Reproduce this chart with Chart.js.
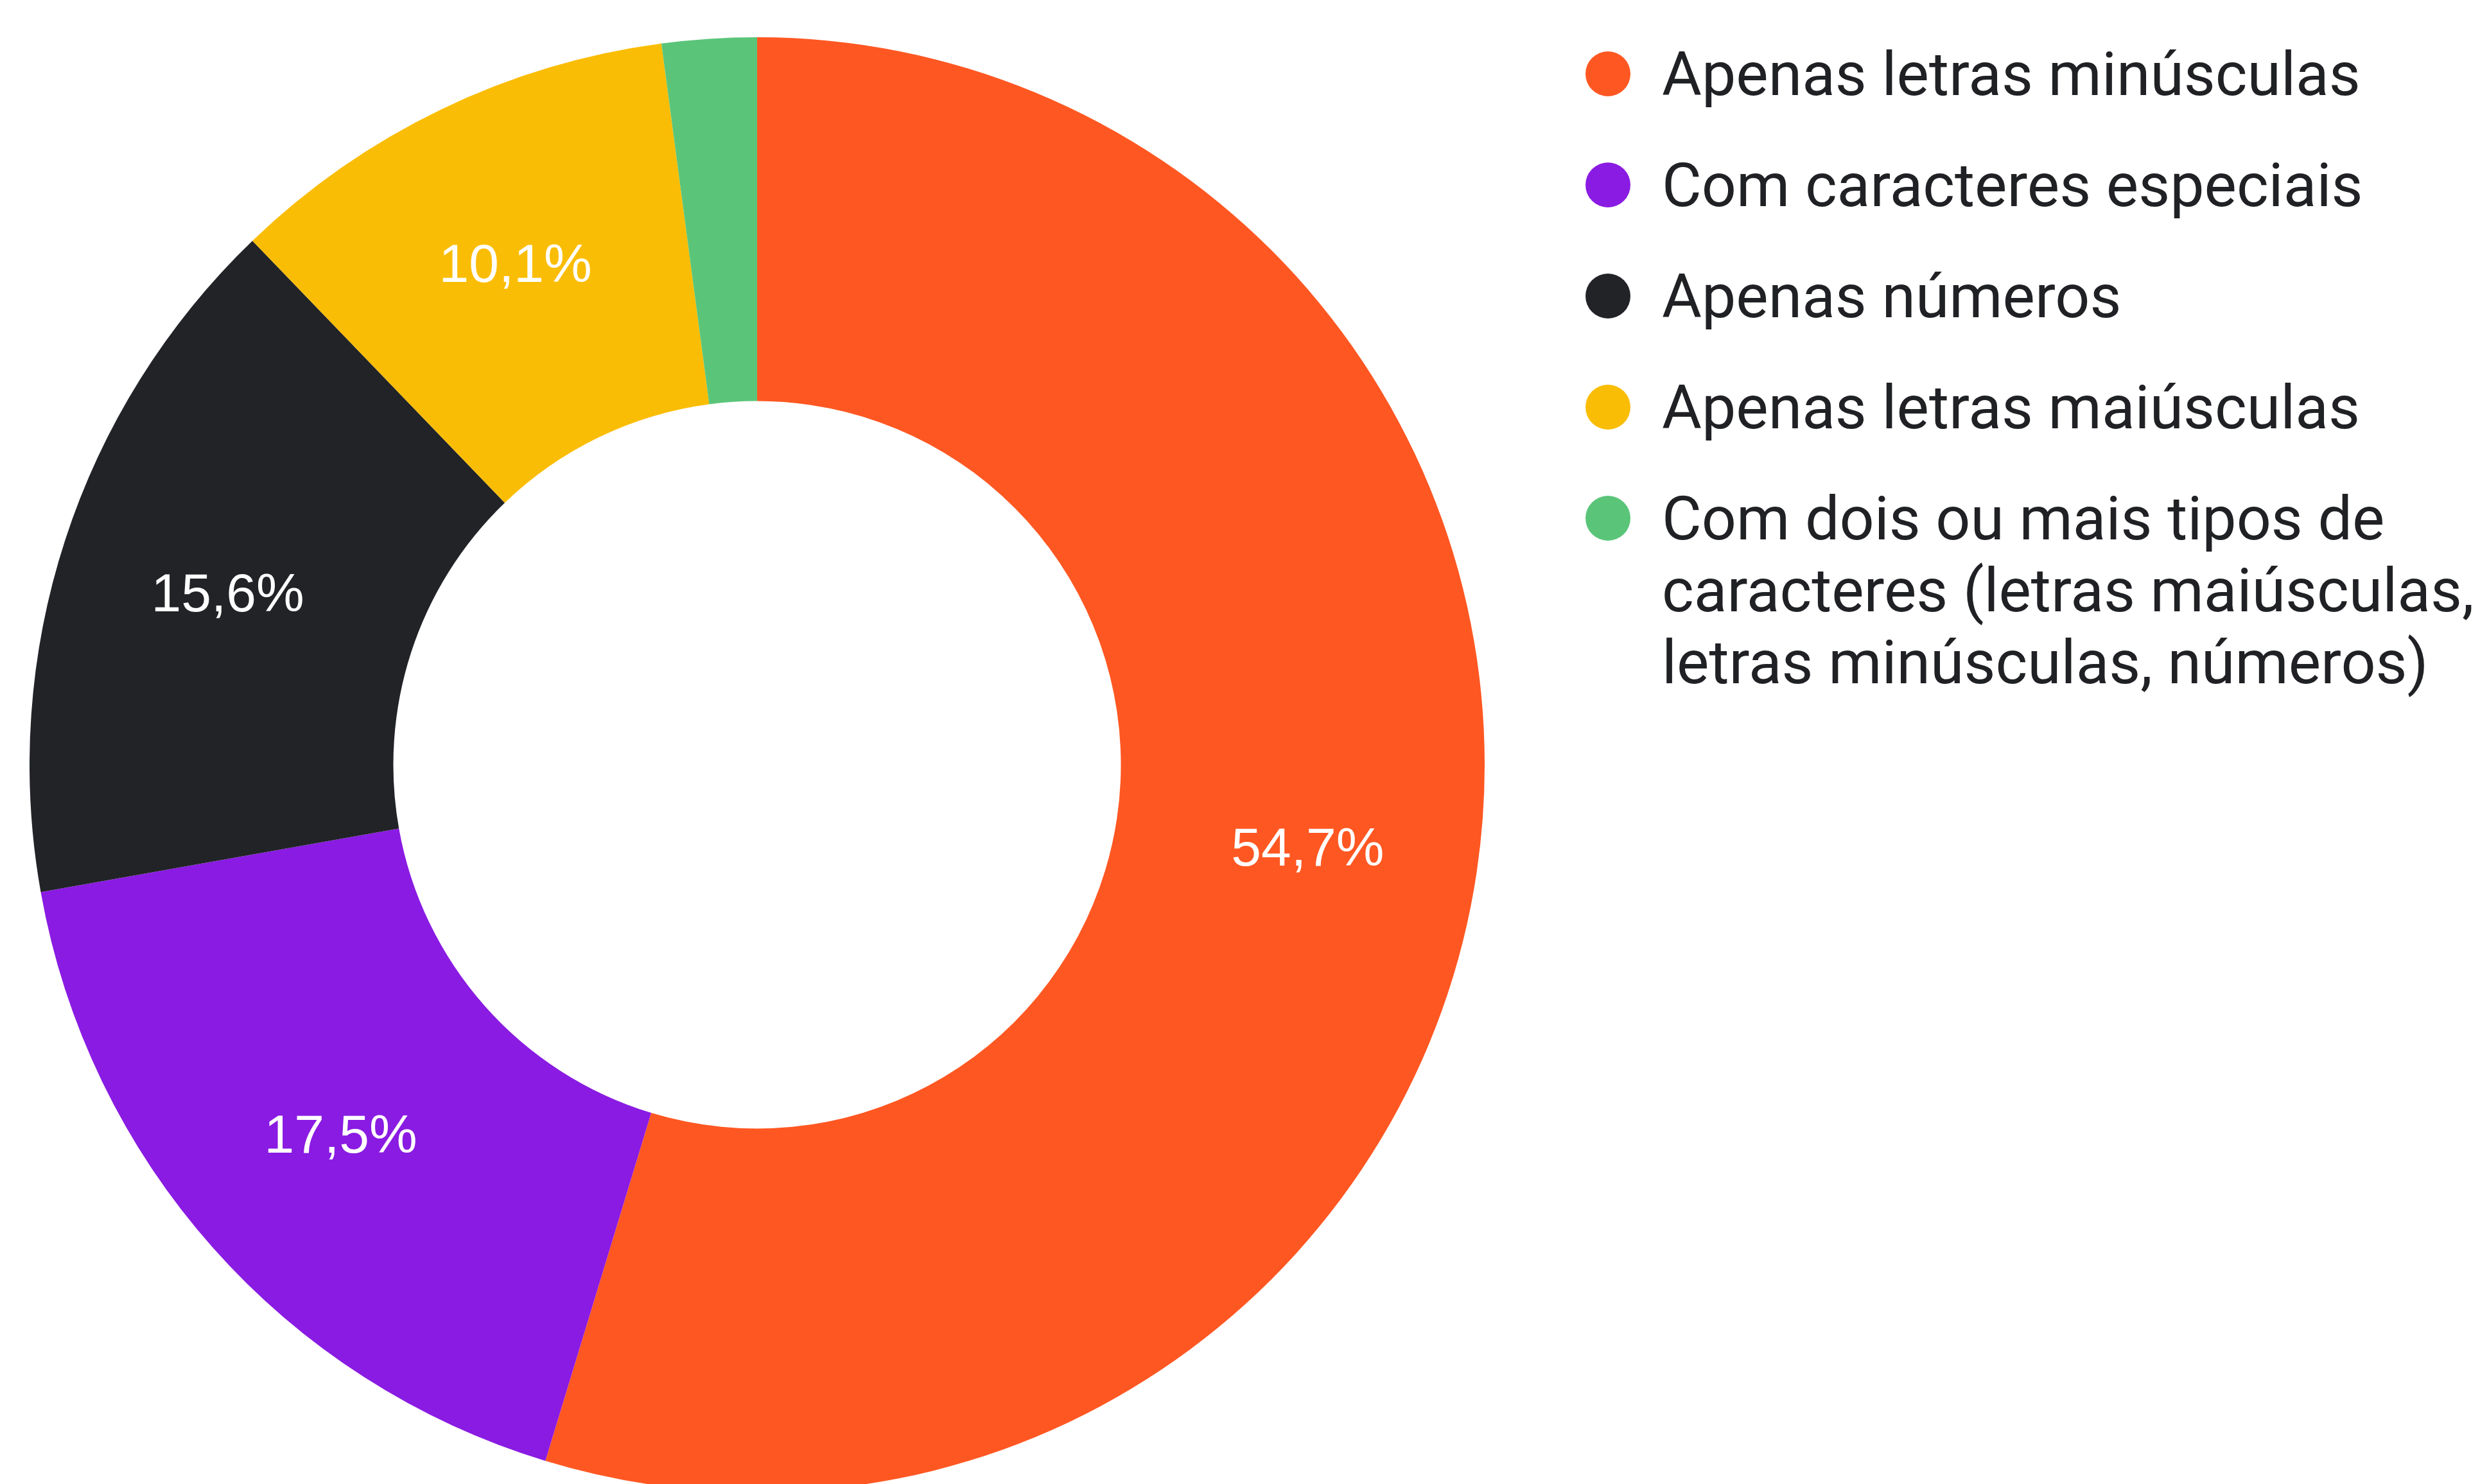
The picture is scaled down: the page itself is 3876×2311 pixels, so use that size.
<!DOCTYPE html>
<html>
<head>
<meta charset="utf-8">
<script src="https://cdn.jsdelivr.net/npm/chart.js@4"></script>
<style>
  html, body { margin: 0; padding: 0; background: #ffffff; overflow: hidden; width: 3876px; height: 2311px; }
  #wrap { position: absolute; left: 46px; top: 58px; width: 2266px; height: 2266px; }
  #legend { position: absolute; left: 0; top: 0; font-family: Roboto, "Noto Sans", sans-serif; color: #202124; }
  .row { position: absolute; left: 2588px; font-size: 95px; line-height: 112px; white-space: nowrap; }
  .dot { position: absolute; width: 70px; height: 70px; border-radius: 50%; }
</style>
</head>
<body>
<div id="wrap"><canvas id="c"></canvas></div>
<div id="legend"></div>
<script>
const categories = [
  "Apenas letras minúsculas",
  "Com caracteres especiais",
  "Apenas números",
  "Apenas letras maiúsculas",
  ["Com dois ou mais tipos de", "caracteres (letras maiúsculas,", "letras minúsculas, números)"]
];
const percentages = [54.7, 17.5, 15.6, 10.1, 2.1];
const colors = ["#FF5722", "#8A1BE2", "#212327", "#FABD05", "#5AC579"];

const sliceLabels = {
  id: 'sliceLabels',
  afterDatasetsDraw(chart) {
    const ctx = chart.ctx;
    const meta = chart.getDatasetMeta(0);
    ctx.save();
    ctx.font = '84px "Liberation Sans", Arial, sans-serif';
    ctx.fillStyle = '#ffffff';
    ctx.textAlign = 'center';
    ctx.textBaseline = 'middle';
    meta.data.forEach((arc, i) => {
      const v = percentages[i];
      if (v < 5) return;
      const p = arc.getProps(['x', 'y', 'startAngle', 'endAngle', 'innerRadius', 'outerRadius']);
      const mid = (p.startAngle + p.endAngle) / 2;
      const r = p.innerRadius + 0.53 * (p.outerRadius - p.innerRadius);
      ctx.fillText(v.toFixed(1).replace('.', ',') + '%', p.x + Math.cos(mid) * r, p.y + Math.sin(mid) * r + 6);
    });
    ctx.restore();
  }
};

new Chart(document.getElementById('c'), {
  type: 'doughnut',
  data: {
    labels: categories,
    datasets: [{
      data: percentages,
      backgroundColor: colors,
      borderWidth: 0,
      hoverOffset: 0
    }]
  },
  options: {
    responsive: true,
    maintainAspectRatio: false,
    animation: false,
    cutout: '50%',
    layout: { padding: 0 },
    plugins: { legend: { display: false }, tooltip: { enabled: false } }
  },
  plugins: [sliceLabels]
});

// HTML legend built from the data arrays
const legendEl = document.getElementById('legend');
const rowTop0 = 60, rowStep = 173;
let rowTop = rowTop0;
categories.forEach((lab, i) => {
  const lines = Array.isArray(lab) ? lab : [lab];
  const dot = document.createElement('div');
  dot.className = 'dot';
  dot.style.background = colors[i];
  dot.style.left = (2504 - 35) + 'px';
  dot.style.top = (rowTop + 55 - 35) + 'px';
  legendEl.appendChild(dot);
  const row = document.createElement('div');
  row.className = 'row';
  row.style.top = rowTop + 'px';
  row.innerHTML = lines.map(s => s.replace(/&/g, '&amp;').replace(/</g, '&lt;')).join('<br>');
  legendEl.appendChild(row);
  rowTop += rowStep;
});
</script>
</body>
</html>
